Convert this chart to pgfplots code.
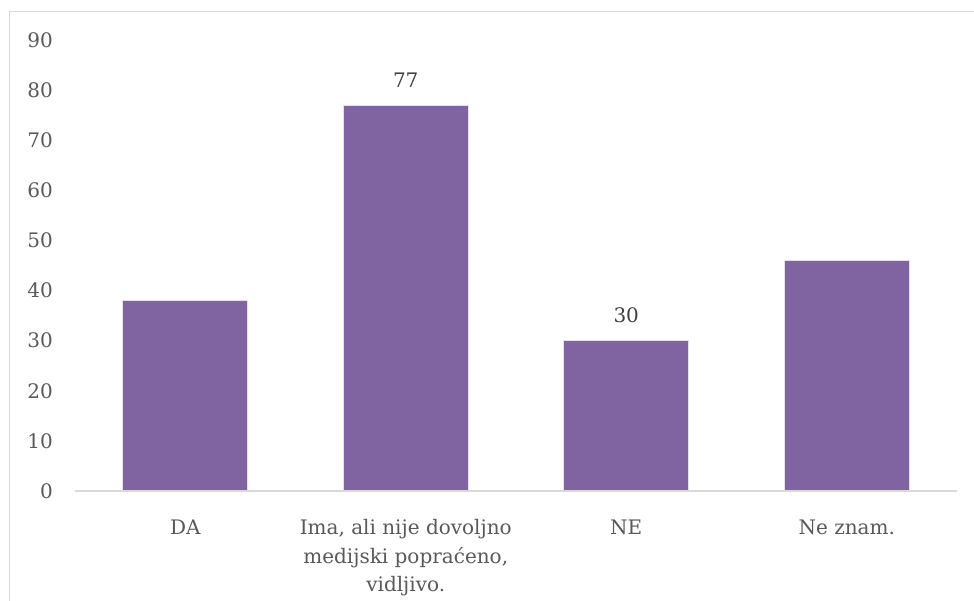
\documentclass[border=0pt]{standalone}
\usepackage{pgfplots}
\pgfplotsset{compat=1.18}
\usepackage{fontspec}
\setmainfont{DejaVu Serif}
\definecolor{barpurple}{HTML}{8064A2}
\definecolor{ticktext}{HTML}{595959}
\definecolor{labeltext}{HTML}{404040}
\definecolor{axisgray}{HTML}{D9D9D9}
\begin{document}
\begin{tikzpicture}[x=1pt,y=1pt]
\useasboundingbox (0,0) rectangle (974,601);
\draw[axisgray, line width=1pt] (9.5,-20) -- (9.5,589.5) -- (1000,589.5);
\begin{axis}[
    at={(75pt,110pt)}, anchor=south west,
    scale only axis,
    width=882pt, height=451pt,
    ymin=0, ymax=90,
    xmin=-0.5, xmax=3.5,
    ytick={0,10,...,90},
    xtick={0,1,2,3},
    xticklabels={DA, {Ima, ali nije dovoljno\\medijski popraćeno,\\vidljivo.}, NE, {Ne znam.}},
    axis line style={draw=none},
    axis x line*=bottom,
    axis y line*=left,
    major tick style={draw=none},
    ticklabel style={font=\fontsize{20}{28.5}\selectfont, text=ticktext},
    xticklabel style={align=center, anchor=north, inner sep=0pt, yshift=-24pt},
    yticklabel style={anchor=east, inner sep=0pt, xshift=-22pt},
    /pgf/number format/assume math mode=true,
    ybar, bar width=125pt, bar shift=0pt,
    point meta=explicit symbolic,
    nodes near coords={\pgfplotspointmeta},
    nodes near coords style={font=\fontsize{20}{24}\selectfont, text=labeltext, anchor=south, yshift=14pt},
    clip=false,
]
\addplot[fill=barpurple, draw=white!80!barpurple, line width=0.8pt]
    coordinates {(0,38) [] (1,77) [77] (2,30) [30] (3,46) []};
\draw[axisgray, line width=1.2pt] (rel axis cs:0,0) -- (rel axis cs:1,0);
\end{axis}
\end{tikzpicture}
\end{document}
